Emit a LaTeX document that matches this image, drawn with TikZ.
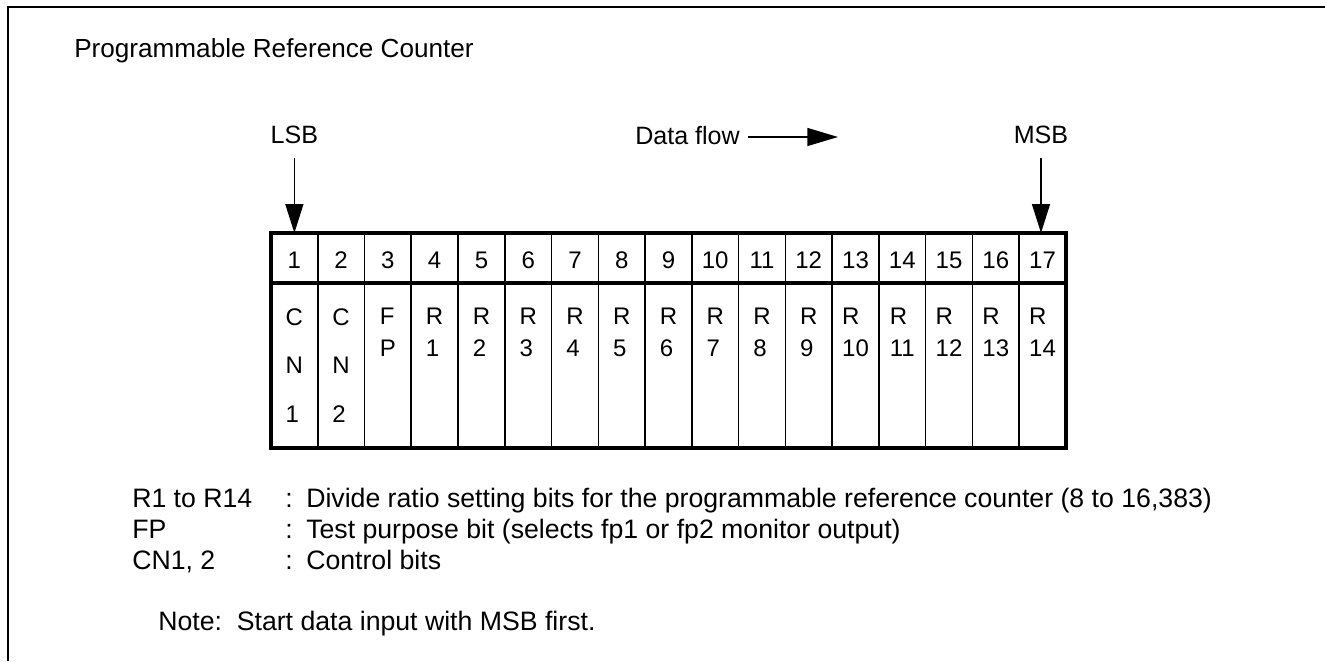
\documentclass[tikz,border=0pt]{standalone}
\usepackage{fontspec}
\setmainfont{Liberation Sans}
\usetikzlibrary{arrows.meta}
\tikzset{
    % line widths
    frame line/.style = {line width=1.5pt},
    box line/.style = {line width=3pt},
    grid line/.style = {line width=1.2pt},
    % arrows
    flow/.style = {line width=1.1pt, -{Triangle[length=21.75pt, width=13.5pt]}},
    flow arrow/.style = {line width=1pt, -{Triangle[length=23pt, width=13.5pt]}},
    % text styles
    label text/.style = {anchor=base, inner sep=0pt, font=\fontsize{18.8}{22}\selectfont},
    bit number/.style = {anchor=base, inner sep=0pt, font=\fontsize{18}{22}\selectfont},
    bit name/.style = {anchor=north, inner sep=0pt, align=left, font=\fontsize{18}{23.5}\selectfont},
    legend/.style = {anchor=base west, inner sep=0pt, font=\fontsize{20}{24}\selectfont}
}

\begin{document}
\begin{tikzpicture}[x=0.75pt, y=-0.75pt]
    \useasboundingbox (0,0) rectangle (1325,661);
    % open frame (top and left edges only)
    \draw[frame line] (8,661) -- (8,7) -- (1325,7);

    \node[anchor=base west, inner sep=0pt, font=\fontsize{19.6}{24}\selectfont] (title) at (74,57) {Programmable Reference Counter};

    % register table
    \coordinate (tabletl) at (271,233);
    \coordinate (tablebr) at (1066,448);
    \foreach \i in {1,...,16}
        \draw[grid line] (271+\i*46.76,233) -- (271+\i*46.76,448);
    \draw[box line] (271,283) -- (1066,283);
    \draw[box line] (tabletl) rectangle (tablebr);

    % bit numbers
    \foreach \i in {1,...,17}
        \node[bit number] (num\i) at (271+\i*46.76-23.38,268) {\i};

    % bit names
    \node[bit name, font=\fontsize{18}{36.4}\selectfont] (bit1) at (294.38,308) {C\\N\\1};
    \node[bit name, font=\fontsize{18}{36.4}\selectfont] (bit2) at (341.14,308) {C\\N\\2};
    \foreach \i/\txt in {3/F\\P, 4/R\\1, 5/R\\2, 6/R\\3, 7/R\\4, 8/R\\5, 9/R\\6, 10/R\\7, 11/R\\8,
                         12/R\\9, 13/R\\10, 14/R\\11, 15/R\\12, 16/R\\13, 17/R\\14}
        \node[bit name] (bit\i) at (271+\i*46.76-23.38,308) {\txt};

    % LSB / MSB markers and data direction
    \node[label text] (lsb) at (294.38,143) {LSB};
    \node[label text] (msb) at (1041,143) {MSB};
    \draw[flow, shorten <=11pt] (lsb.south) -- (lsb.south |- tabletl);
    \draw[flow, shorten <=11pt] (msb.south) -- (msb.south |- tabletl);
    \node[label text, anchor=base east] (dataflow) at (740,144) {Data flow};
    \coordinate (flowtip) at (838,137);
    \draw[flow arrow, shorten <=6pt] (dataflow.east |- flowtip) -- (flowtip);

    % legend
    \node[legend] (keyR) at (132,507) {R1 to R14};
    \node[legend] (colonR) at (285,507) {:};
    \node[legend] (descR) at (306,507) {Divide ratio setting bits for the programmable reference counter (8 to 16,383)};
    \node[legend] (keyFP) at (132,538) {FP};
    \node[legend] (colonFP) at (285,538) {:};
    \node[legend] (descFP) at (306,538) {Test purpose bit (selects fp1 or fp2 monitor output)};
    \node[legend] (keyCN) at (132,569) {CN1, 2};
    \node[legend] (colonCN) at (285,569) {:};
    \node[legend] (descCN) at (306,569) {Control bits};
    \node[legend] (note) at (158,630) {Note:\ \ Start data input with MSB first.};
\end{tikzpicture}
\end{document}
